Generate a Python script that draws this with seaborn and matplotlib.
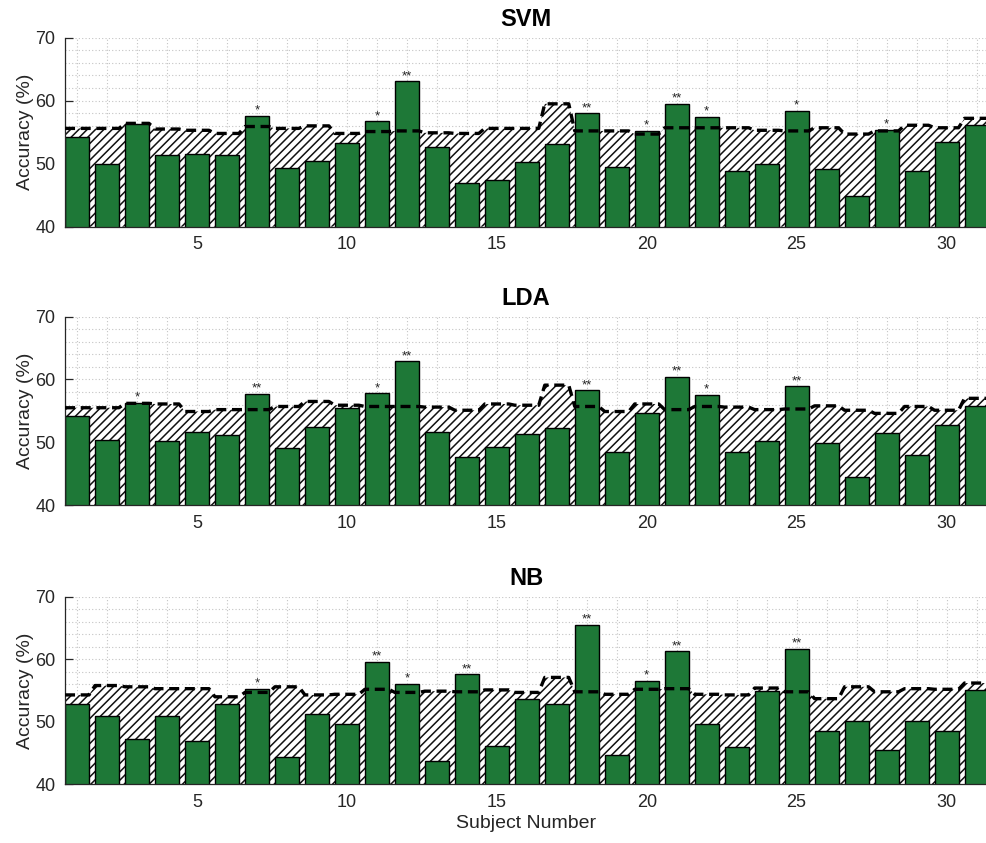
import matplotlib
matplotlib.use("Agg")
import matplotlib.pyplot as plt
from matplotlib.ticker import MultipleLocator
import seaborn as sns

subjects = list(range(1, 32))
classifiers = ["SVM", "LDA", "NB"]

svm_acc = [54.2, 49.9, 56.3, 51.4, 51.6, 51.4, 57.6, 49.3, 50.4, 53.3, 56.7, 63.1, 52.7, 47.0, 47.4,
           50.2, 53.1, 58.0, 49.5, 55.2, 59.5, 57.4, 48.9, 49.9, 58.4, 49.1, 44.9, 55.4, 48.9, 53.5, 56.2]
svm_thr = [55.6, 55.6, 56.4, 55.5, 55.3, 54.8, 55.9, 55.6, 56.0, 54.8, 55.1, 55.2, 54.9, 54.8, 55.6,
           55.6, 59.5, 55.2, 55.2, 54.7, 55.7, 55.7, 55.7, 55.3, 55.2, 55.7, 54.7, 55.2, 56.1, 55.7, 57.2]
svm_sig = ["", "", "", "", "", "", "*", "", "", "", "*", "**", "", "", "",
           "", "", "**", "", "*", "**", "*", "", "", "*", "", "", "*", "", "", ""]

lda_acc = [54.2, 50.4, 56.3, 50.2, 51.7, 51.1, 57.7, 49.1, 52.5, 55.5, 57.8, 62.9, 51.7, 47.6, 49.3,
           51.3, 52.3, 58.3, 48.5, 54.6, 60.4, 57.6, 48.5, 50.2, 58.9, 49.9, 44.4, 51.5, 47.9, 52.7, 55.7]
lda_thr = [55.5, 55.5, 56.2, 56.1, 54.9, 55.2, 55.2, 55.7, 56.5, 55.9, 55.7, 55.7, 55.6, 55.1, 56.1,
           55.9, 59.1, 55.7, 54.9, 56.1, 55.2, 55.7, 55.6, 55.2, 55.3, 55.8, 55.1, 54.6, 55.7, 55.1, 57.0]
lda_sig = ["", "", "*", "", "", "", "**", "", "", "", "*", "**", "", "", "",
           "", "", "**", "", "", "**", "*", "", "", "**", "", "", "", "", "", ""]

nb_acc = [52.9, 50.9, 47.2, 50.9, 47.0, 52.9, 55.3, 44.4, 51.2, 49.7, 59.6, 56.1, 43.8, 57.6, 46.2,
          53.6, 52.9, 65.5, 44.7, 56.6, 61.3, 49.7, 45.9, 54.9, 61.7, 48.5, 50.2, 45.5, 50.2, 48.5, 55.1]
nb_thr = [54.3, 55.8, 55.6, 55.3, 55.3, 54.0, 54.7, 55.6, 54.3, 54.4, 55.2, 54.7, 54.9, 54.8, 55.1,
          54.7, 57.1, 54.8, 54.4, 55.2, 55.3, 54.4, 54.3, 55.4, 54.8, 53.7, 55.6, 54.8, 55.3, 55.2, 56.2]
nb_sig = ["", "", "", "", "", "", "*", "", "", "", "**", "*", "", "**", "",
          "", "", "**", "", "*", "**", "", "", "", "**", "", "", "", "", "", ""]

accs = [svm_acc, lda_acc, nb_acc]
thrs = [svm_thr, lda_thr, nb_thr]
sigs = [svm_sig, lda_sig, nb_sig]

y_ticks = [40, 50, 60, 70]
x_ticks = [5, 10, 15, 20, 25, 30]

GREEN = "#1E7837"
DARK = "#262626"

sns.set_theme(style="white")
plt.rcParams["font.family"] = ["Liberation Sans", "DejaVu Sans"]
plt.rcParams["hatch.linewidth"] = 1.1
plt.rcParams["hatch.color"] = "black"

fig = plt.figure(figsize=(9.87, 8.43), dpi=100)
rects = [[0.0659, 0.7311, 0.9341, 0.2242],
         [0.0659, 0.4009, 0.9341, 0.2234],
         [0.0659, 0.0696, 0.9341, 0.2225]]

for k, (name, acc, thr, sig) in enumerate(zip(classifiers, accs, thrs, sigs)):
    ax = fig.add_axes(rects[k])
    xs, ys = [], []
    for s, t in zip(subjects, thr):
        xs += [s - 0.4, s + 0.4]
        ys += [t, t]
    ax.fill_between(xs, 40, ys, facecolor="white", hatch="////", edgecolor="#111111",
                    linewidth=0, zorder=1)
    sns.barplot(x=subjects, y=acc, native_scale=True, color=GREEN, saturation=1,
                edgecolor="black", linewidth=1.0, width=0.8, ax=ax, zorder=2)
    ax.plot(xs, ys, color="black", linewidth=2.4, linestyle=(0, (3.0, 1.7)), zorder=3)
    for s, a, g in zip(subjects, acc, sig):
        if g:
            ax.text(s, a + 0.35, g, ha="center", va="baseline", fontsize=9.5,
                    color=DARK, zorder=4)

    ax.set_xlim(0.6, 31.35)
    ax.set_ylim(40, 70)
    ax.set_xticks(x_ticks)
    ax.set_xticklabels([str(v) for v in x_ticks])
    ax.set_yticks(y_ticks)
    ax.set_yticklabels([str(v) for v in y_ticks])
    ax.xaxis.set_minor_locator(MultipleLocator(1))
    ax.yaxis.set_minor_locator(MultipleLocator(2))
    ax.set_axisbelow(True)
    ax.grid(which="both", linestyle=(0, (1, 2)), color="#c4c4c4", linewidth=0.8)
    ax.tick_params(which="major", direction="in", length=6, width=0.9, color=DARK,
                   labelsize=13, labelcolor=DARK, pad=7, left=True, bottom=True)
    ax.tick_params(which="minor", length=0)
    for side in ["top", "right"]:
        ax.spines[side].set_visible(False)
    for side in ["left", "bottom"]:
        ax.spines[side].set_color(DARK)
        ax.spines[side].set_linewidth(0.9)
    ax.set_title(name, fontsize=17, fontweight="bold", pad=8.5, color="black")
    ax.set_ylabel("Accuracy (%)", fontsize=14, color=DARK)
    ax.yaxis.set_label_coords(-0.034, 0.5)
    if k == 2:
        ax.set_xlabel("Subject Number", fontsize=14, color=DARK, labelpad=3)
    else:
        ax.set_xlabel("")

fig.savefig("out.png", dpi=100)
